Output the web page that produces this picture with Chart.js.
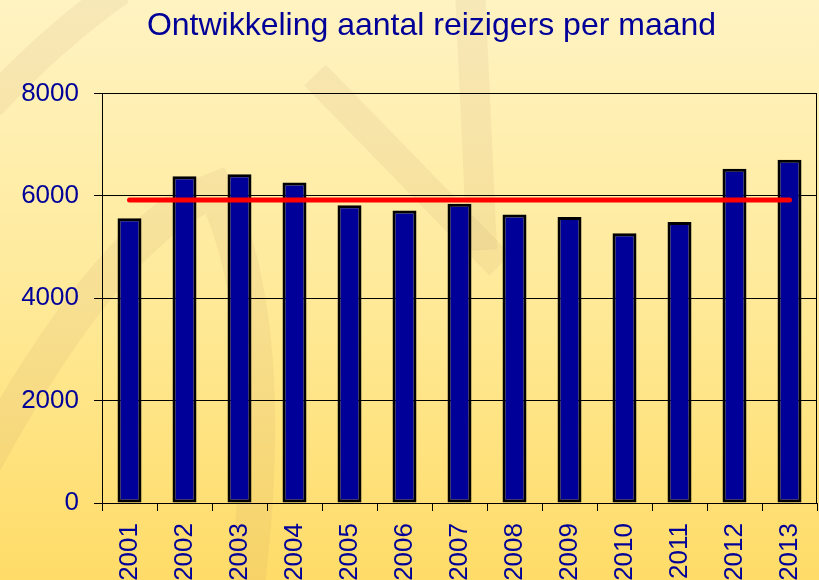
<!DOCTYPE html>
<html><head><meta charset="utf-8">
<script src="https://cdn.jsdelivr.net/npm/chart.js@4/dist/chart.umd.min.js"></script>
<style>html,body{margin:0;padding:0;overflow:hidden;background:#FFE98F}#wrap{width:819px;height:580px;position:relative}</style>
</head><body><div id="wrap"><canvas id="c" width="819" height="580"></canvas></div>
<script>
const years = ['2001','2002','2003','2004','2005','2006','2007','2008','2009','2010','2011','2012','2013'];
const reizigers = [5560, 6380, 6420, 6260, 5815, 5715, 5845, 5635, 5585, 5270, 5490, 6530, 6705];
const gemiddelde = [5920, 5920, 5920, 5920, 5920, 5920, 5920, 5920, 5920, 5920, 5920, 5920, 5920];
const yTicks = [0, 2000, 4000, 6000, 8000];
const titel = 'Ontwikkeling aantal reizigers per maand';

const FONT = "'Liberation Sans', Arial, sans-serif";
const BLUE = '#000099';

const bgPlugin = {
  id: 'bg',
  beforeDraw(chart) {
    const {ctx, width, height} = chart;
    ctx.save();
    const g = ctx.createLinearGradient(0, 0, 0, height);
    g.addColorStop(0, '#FFF3C2');
    g.addColorStop(0.5, '#FFEA9A');
    g.addColorStop(1, '#FFDC68');
    ctx.fillStyle = g;
    ctx.fillRect(0, 0, width, height);
    ctx.strokeStyle = 'rgba(175,140,95,0.10)';
    ctx.lineCap = 'butt';
    ctx.lineWidth = 30;
    ctx.beginPath(); ctx.moveTo(-10, 105); ctx.quadraticCurveTo(50, 40, 120, -10); ctx.stroke();
    ctx.lineWidth = 36;
    ctx.beginPath(); ctx.moveTo(-20, 470); ctx.quadraticCurveTo(110, 230, 215, 190);
    ctx.quadraticCurveTo(280, 330, 245, 600); ctx.stroke();
    ctx.lineWidth = 30;
    ctx.beginPath(); ctx.moveTo(315, 75); ctx.lineTo(500, 265); ctx.stroke();
    ctx.beginPath(); ctx.moveTo(470, -10); ctx.lineTo(482, 250); ctx.stroke();
    ctx.restore();
  }
};

const framePlugin = {
  id: 'frame',
  beforeDatasetsDraw(chart) {
    const {ctx, chartArea: a} = chart;
    ctx.save();
    ctx.strokeStyle = '#000';
    ctx.lineWidth = 1;
    ctx.beginPath();
    ctx.moveTo(Math.round(a.right) - 0.5, a.top);
    ctx.lineTo(Math.round(a.right) - 0.5, a.bottom);
    ctx.stroke();
    ctx.restore();
  }
};

const titleShift = {
  id: 'titleShift',
  afterLayout(chart) {
    const t = chart.titleBlock;
    if (t) { t.left = 2 * 431.5 - t.right; }
  }
};

new Chart(document.getElementById('c'), {
  data: {
    labels: years,
    datasets: [
      {
        type: 'line', data: gemiddelde, order: 0,
        borderColor: '#FF0000', borderWidth: 5, borderCapStyle: 'round',
        pointRadius: 0, fill: false, tension: 0
      },
      {
        type: 'bar', data: reizigers, order: 1,
        backgroundColor: '#000099', borderColor: '#000000', borderWidth: 3,
        borderSkipped: false,
        barPercentage: 0.436, categoryPercentage: 1.0
      }
    ]
  },
  options: {
    responsive: false,
    animation: false,
    devicePixelRatio: 1,
    layout: { padding: { left: 0, right: 2, top: 0, bottom: 0 } },
    plugins: {
      legend: { display: false },
      tooltip: { enabled: false },
      title: {
        display: true, text: titel, color: BLUE,
        font: { family: FONT, size: 32, weight: 'normal' },
        padding: { top: 7, bottom: 48 }
      }
    },
    scales: {
      x: {
        offset: true,
        grid: { offset: true, drawOnChartArea: false, drawTicks: true, tickLength: 8, color: '#000' },
        border: { color: '#000', width: 1 },
        ticks: { color: BLUE, font: { family: FONT, size: 26 }, minRotation: 90, maxRotation: 90, padding: 12, autoSkip: false },
        afterFit(s) { s.height = 77; s.paddingLeft = 0; s.paddingRight = 0; }
      },
      y: {
        min: 0, max: 8000,
        afterBuildTicks(s) { s.ticks = yTicks.map(v => ({ value: v })); },
        grid: { color: '#000', lineWidth: 1, drawTicks: true, tickLength: 8 },
        border: { color: '#000', width: 1 },
        ticks: { color: BLUE, font: { family: FONT, size: 26 }, padding: 15, callback: v => String(v) },
        afterFit(s) { s.width = 102; }
      }
    }
  },
  plugins: [bgPlugin, framePlugin, titleShift]
});
</script>
</body></html>
